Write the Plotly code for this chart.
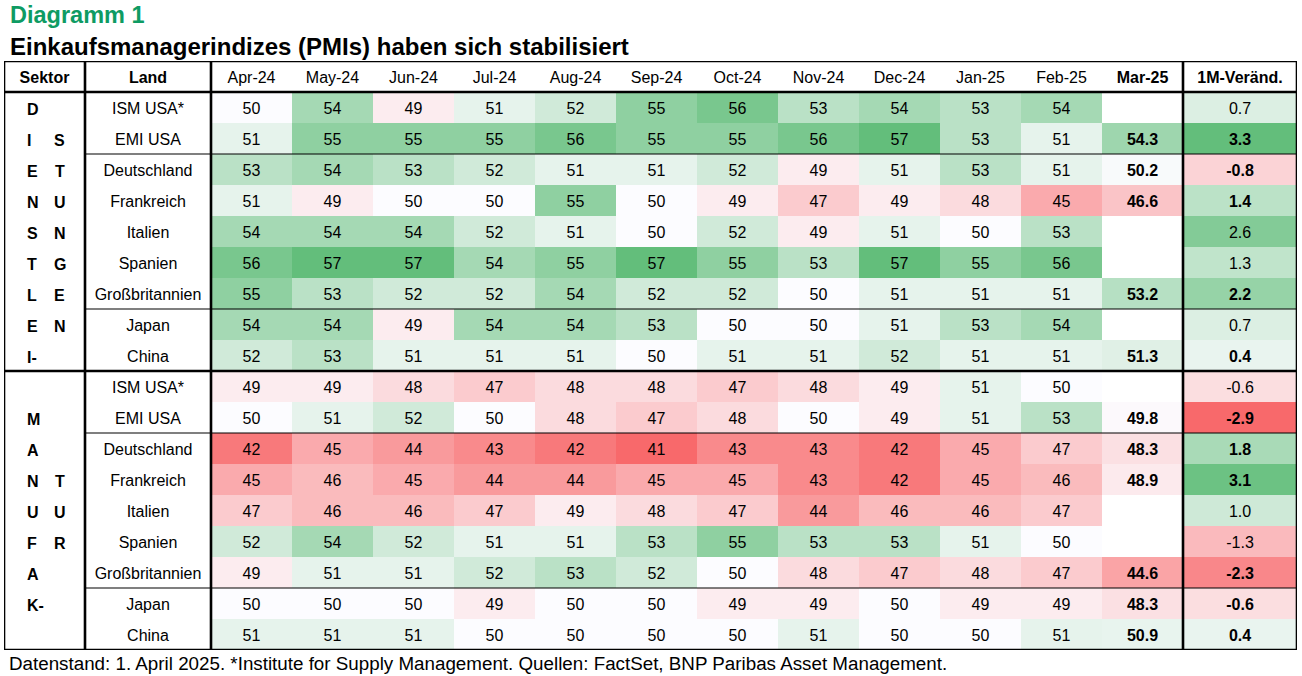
import plotly.graph_objects as go

# ---------------- data ----------------
months = ["Apr-24", "May-24", "Jun-24", "Jul-24", "Aug-24", "Sep-24", "Oct-24",
          "Nov-24", "Dec-24", "Jan-25", "Feb-25", "Mar-25"]
countries = ["ISM USA*", "EMI USA", "Deutschland", "Frankreich", "Italien",
             "Spanien", "Großbritannien", "Japan", "China"]

svc_values = [
    [50, 54, 49, 51, 52, 55, 56, 53, 54, 53, 54],
    [51, 55, 55, 55, 56, 55, 55, 56, 57, 53, 51],
    [53, 54, 53, 52, 51, 51, 52, 49, 51, 53, 51],
    [51, 49, 50, 50, 55, 50, 49, 47, 49, 48, 45],
    [54, 54, 54, 52, 51, 50, 52, 49, 51, 50, 53],
    [56, 57, 57, 54, 55, 57, 55, 53, 57, 55, 56],
    [55, 53, 52, 52, 54, 52, 52, 50, 51, 51, 51],
    [54, 54, 49, 54, 54, 53, 50, 50, 51, 53, 54],
    [52, 53, 51, 51, 51, 50, 51, 51, 52, 51, 51],
]
svc_mar = [None, 54.3, 50.2, 46.6, None, None, 53.2, None, 51.3]
svc_chg = [0.7, 3.3, -0.8, 1.4, 2.6, 1.3, 2.2, 0.7, 0.4]

mfg_values = [
    [49, 49, 48, 47, 48, 48, 47, 48, 49, 51, 50],
    [50, 51, 52, 50, 48, 47, 48, 50, 49, 51, 53],
    [42, 45, 44, 43, 42, 41, 43, 43, 42, 45, 47],
    [45, 46, 45, 44, 44, 45, 45, 43, 42, 45, 46],
    [47, 46, 46, 47, 49, 48, 47, 44, 46, 46, 47],
    [52, 54, 52, 51, 51, 53, 55, 53, 53, 51, 50],
    [49, 51, 51, 52, 53, 52, 50, 48, 47, 48, 47],
    [50, 50, 50, 49, 50, 50, 49, 49, 50, 49, 49],
    [51, 51, 51, 50, 50, 50, 50, 51, 50, 50, 51],
]
mfg_mar = [None, 49.8, 48.3, 48.9, None, None, 44.6, 48.3, 50.9]
mfg_chg = [-0.6, -2.9, 1.8, 3.1, 1.0, -1.3, -2.3, -0.6, 0.4]

svc_left = ["D", "I", "E", "N", "S", "T", "L", "E", "I-"]
svc_right = ["", "S", "T", "U", "N", "G", "E", "N", ""]
mfg_left = ["", "M", "A", "N", "U", "F", "A", "K-", ""]
mfg_right = ["", "", "", "T", "U", "R", "", "", ""]

header_sektor = "Sektor"
header_land = "Land"
header_chg = "1M-Veränd."

title_kicker = "Diagramm 1"
title_main = "Einkaufsmanagerindizes (PMIs) haben sich stabilisiert"
footnote = ("Datenstand: 1. April 2025. *Institute for Supply Management. "
            "Quellen: FactSet, BNP Paribas Asset Management.")

# ---------------- layout constants ----------------
W, H = 1302, 676
ML, MR, MT, MB = 4, 5, 61, 26
PW, PH = W - ML - MR, H - MT - MB
ROW_PX = PH / 19
col_widths = [81, 126] + [81] * 12 + [114]
edges = [0]
for w in col_widths:
    edges.append(edges[-1] + w)
centers = [(edges[i] + edges[i + 1]) / 2 for i in range(len(col_widths))]
n_rows = 18
TXT_DY = 2 / ROW_PX   # push text ~2px down for optical centring
FONT = "Liberation Sans, Arial, sans-serif"
RED, MID, GREEN = "#F8696B", "#FCFCFF", "#63BE7B"


def px_x(p):
    return (p - ML) / PW


def px_y(p):
    return 1 - (p - MT) / PH


def scale3(mn, mid, mx):
    p = (mid - mn) / (mx - mn)
    return [[0, RED], [p, MID], [1, GREEN]]


# ---------------- build grids ----------------
all_vals = svc_values + mfg_values
all_mar = svc_mar + mfg_mar
all_chg = svc_chg + mfg_chg
all_countries = countries + countries

z_main = [row + [m] for row, m in zip(all_vals, all_mar)]
flat = [v for r in z_main for v in r if v is not None]
zmin, zmax = min(flat), max(flat)
cmin, cmax = min(all_chg), max(all_chg)

y_edges = [1 + i for i in range(n_rows + 1)]

fig = go.Figure()
fig.add_trace(go.Heatmap(
    z=z_main, x=edges[2:15], y=y_edges,
    zmin=zmin, zmax=zmax, colorscale=scale3(zmin, 50, zmax),
    showscale=False, hoverinfo="skip"))
fig.add_trace(go.Heatmap(
    z=[[c] for c in all_chg], x=edges[14:16], y=y_edges,
    zmin=cmin, zmax=cmax, colorscale=scale3(cmin, 0, cmax),
    showscale=False, hoverinfo="skip"))

# cell text
tx, ty, tt = [], [], []
for r in range(n_rows):
    yc = 1.5 + r + TXT_DY
    tx.append(centers[1]); ty.append(yc); tt.append(all_countries[r])
    for j, v in enumerate(all_vals[r]):
        tx.append(centers[2 + j]); ty.append(yc); tt.append(str(v))
    m = all_mar[r]
    if m is not None:
        tx.append(centers[13]); ty.append(yc); tt.append(f"<b>{m:.1f}</b>")
    c = all_chg[r]
    s = f"{c:.1f}"
    tx.append(centers[14]); ty.append(yc)
    tt.append(f"<b>{s}</b>" if m is not None else s)

# header text
hdr = [f"<b>{header_sektor}</b>", f"<b>{header_land}</b>"] + months[:-1] + \
      [f"<b>{months[-1]}</b>", f"<b>{header_chg}</b>"]
for i, h in enumerate(hdr):
    tx.append(centers[i]); ty.append(0.5 + TXT_DY); tt.append(h)

fig.add_trace(go.Scatter(
    x=tx, y=ty, text=tt, mode="text",
    textfont=dict(family=FONT, size=16, color="#000000"),
    hoverinfo="skip", showlegend=False))

annotations = []
lefts = svc_left + mfg_left
rights = svc_right + mfg_right
for r in range(n_rows):
    yc = 1.5 + r + TXT_DY
    if lefts[r]:
        annotations.append(dict(x=21, y=yc, xref="x", yref="y", text=f"<b>{lefts[r]}</b>",
                                showarrow=False, xanchor="left", yanchor="middle",
                                font=dict(family=FONT, size=16, color="#000")))
    if rights[r]:
        annotations.append(dict(x=55.5, y=yc, xref="x", yref="y", text=f"<b>{rights[r]}</b>",
                                showarrow=False, xanchor="center", yanchor="middle",
                                font=dict(family=FONT, size=16, color="#000")))

annotations.append(dict(x=px_x(8), y=px_y(15), xref="paper", yref="paper",
                        text=f"<b>{title_kicker}</b>", showarrow=False,
                        xanchor="left", yanchor="middle",
                        font=dict(family=FONT, size=23.5, color="#0E9B63")))
annotations.append(dict(x=px_x(8), y=px_y(46), xref="paper", yref="paper",
                        text=f"<b>{title_main}</b>", showarrow=False,
                        xanchor="left", yanchor="middle",
                        font=dict(family=FONT, size=24, color="#000")))
annotations.append(dict(x=px_x(7), y=px_y(663), xref="paper", yref="paper",
                        text=footnote, showarrow=False,
                        xanchor="left", yanchor="middle",
                        font=dict(family=FONT, size=18.8, color="#000")))

# grid lines
shapes = []
TH, TN = 2.6, 1.2
X0, X1 = edges[0], edges[-1]
shapes.append(dict(type="rect", x0=X0, x1=X1, y0=0, y1=n_rows + 1, xref="x", yref="y",
                   line=dict(color="#000", width=TH)))
for xv in (edges[1], edges[2], edges[14]):
    shapes.append(dict(type="line", x0=xv, x1=xv, y0=0, y1=n_rows + 1, xref="x", yref="y",
                       line=dict(color="#000", width=TH)))
for yv in (1, 10):
    shapes.append(dict(type="line", x0=X0, x1=X1, y0=yv, y1=yv, xref="x", yref="y",
                       line=dict(color="#000", width=TH)))
for yv in (3, 8, 12, 17):
    shapes.append(dict(type="line", x0=edges[1], x1=X1, y0=yv, y1=yv, xref="x", yref="y",
                       line=dict(color="#000", width=TN)))

fig.update_layout(
    width=W, height=H, margin=dict(l=ML, r=MR, t=MT, b=MB, pad=0),
    paper_bgcolor="#FFFFFF", plot_bgcolor="#FFFFFF",
    xaxis=dict(range=[X0, X1], visible=False, fixedrange=True),
    yaxis=dict(range=[n_rows + 1, 0], visible=False, fixedrange=True),
    showlegend=False, annotations=annotations, shapes=shapes,
)

fig.write_html("out.html", config={"displayModeBar": False},
               post_script="document.body.style.margin='0';")
